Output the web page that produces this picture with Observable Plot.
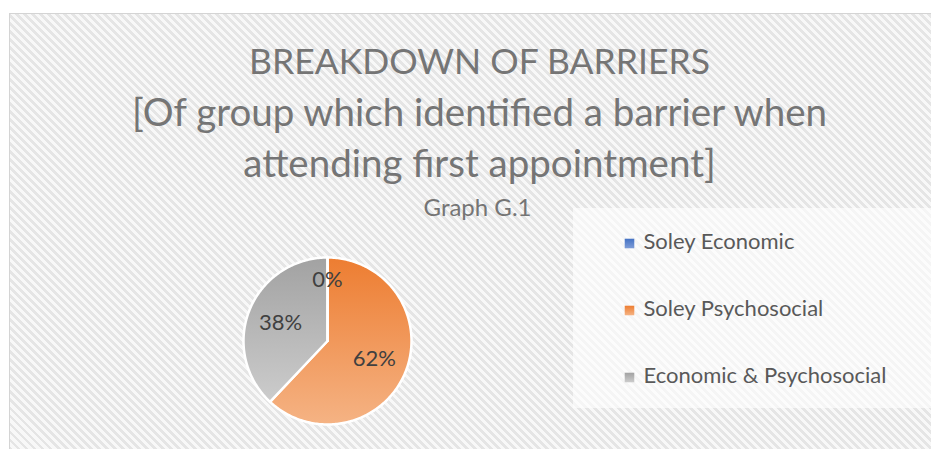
<!DOCTYPE html>
<html>
<head>
<meta charset="utf-8">
<script src="https://cdn.jsdelivr.net/npm/d3@7"></script>
<script src="https://cdn.jsdelivr.net/npm/@observablehq/plot@0.6"></script>
<style>
  body { margin: 0; background: #ffffff; }
  #wrap { position: relative; width: 931px; height: 449px; overflow: hidden; }
  #frame { position: absolute; left: 9px; top: 13px; width: 940px; height: 460px;
    border: 1px solid #d4d4d4;
    background: repeating-linear-gradient(45deg, #e5e5e5 0px, #e5e5e5 2.8px, #f8f8f8 2.8px, #f8f8f8 5.66px); }
  #legendbox { position: absolute; left: 573px; top: 208px; width: 380px; height: 200px;
    background: rgba(255,255,255,0.6); }
  #chart { position: absolute; left: 0; top: 0; }
</style>
</head>
<body>
<div id="wrap">
  <div id="frame"></div>
  <div id="legendbox"></div>
  <div id="chart"></div>
</div>
<script>
// ---- data ----
const categories = ["Soley Economic", "Soley Psychosocial", "Economic & Psychosocial"];
const values = [0, 62, 38];
const labels = ["0%", "62%", "38%"];
const titleLines = ["BREAKDOWN OF BARRIERS", "[Of group which identified a barrier when", "attending first appointment]"];
const subtitle = "Graph G.1";

// ---- styles ----
const gradStops = [["#4472C4", "#7E9DD8"], ["#ED7D31", "#F5B384"], ["#A2A2A2", "#CCCCCC"]];

const total = d3.sum(values);
let acc = 0;
const slices = categories.map((c, i) => {
  const a0 = acc / total * 2 * Math.PI;
  acc += values[i];
  const a1 = acc / total * 2 * Math.PI;
  return {c, i, a0, a1, v: values[i], label: labels[i]};
});
function slicePoints(s) {
  const pts = [{x: 0, y: 0}];
  const n = Math.max(1, Math.ceil((s.a1 - s.a0) / (Math.PI / 180)));
  for (let k = 0; k <= n; k++) {
    const a = s.a0 + (s.a1 - s.a0) * k / n;
    pts.push({x: Math.sin(a), y: Math.cos(a)});
  }
  pts.push({x: 0, y: 0});
  return pts;
}
const labelR = s => s.v === 0 ? 0.73 : 0.6;

const titleBase = [73, 125, 176];
const titleSize = [35.5, 38.5, 38.5];
const legendBase = [248, 315, 382];
const legendSize = 22;

const marks = [
  ...slices.filter(s => s.v > 0).map(s => Plot.line(slicePoints(s), {
    x: "x", y: "y", fill: `url(#grad${s.i})`, stroke: "white", strokeWidth: 2.5,
    strokeLinejoin: "round", curve: "linear"
  })),
  ...slices.filter(s => s.v === 0).map(s => Plot.line(slicePoints(s), {
    x: "x", y: "y", stroke: "white", strokeWidth: 2.5
  })),
  Plot.text(slices, {
    x: s => labelR(s) * Math.sin((s.a0 + s.a1) / 2),
    y: s => labelR(s) * Math.cos((s.a0 + s.a1) / 2),
    text: "label", fontSize: 22, fill: "#404040"
  }),
  ...titleLines.map((t, k) => Plot.text([t], {
    frameAnchor: "top-left", lineAnchor: "middle",
    dx: 479, dy: titleBase[k] - 0.32 * titleSize[k], text: d => d,
    textAnchor: "middle", fontSize: titleSize[k], fill: "#757575"
  })),
  Plot.text([subtitle], {
    frameAnchor: "top-left", lineAnchor: "middle", dx: 477, dy: 215 - 0.32 * 24, text: d => d,
    textAnchor: "middle", fontSize: 24, fill: "#757575"
  }),
  ...categories.map((c, k) => Plot.dot([c], {
    frameAnchor: "top-left", dx: 629, dy: legendBase[k] - 5, symbol: "square", r: 5.4,
    fill: `url(#lgrad${k})`, stroke: null
  })),
  ...categories.map((c, k) => Plot.text([c], {
    frameAnchor: "top-left", lineAnchor: "middle", dx: 643, dy: legendBase[k] - 0.32 * legendSize, text: d => d,
    textAnchor: "start", fontSize: legendSize, fill: "#595959"
  }))
];

const chart = Plot.plot({
  width: 931, height: 449, margin: 0,
  x: {domain: [-1, 1], range: [243, 411], axis: null},
  y: {domain: [-1, 1], range: [424, 257], axis: null},
  style: {background: "transparent", fontFamily: "Lato, 'Open Sans', sans-serif", overflow: "visible"},
  marks
});

const defs = d3.select(chart).insert("defs", ":first-child");
gradStops.forEach((g, i) => {
  for (const id of [`grad${i}`, `lgrad${i}`]) {
    const lg = defs.append("linearGradient").attr("id", id)
      .attr("x1", 0).attr("y1", 0).attr("x2", 0).attr("y2", 1);
    lg.append("stop").attr("offset", "0%").attr("stop-color", g[0]);
    lg.append("stop").attr("offset", "100%").attr("stop-color", g[1]);
  }
});

document.getElementById("chart").appendChild(chart);
</script>
</body>
</html>
